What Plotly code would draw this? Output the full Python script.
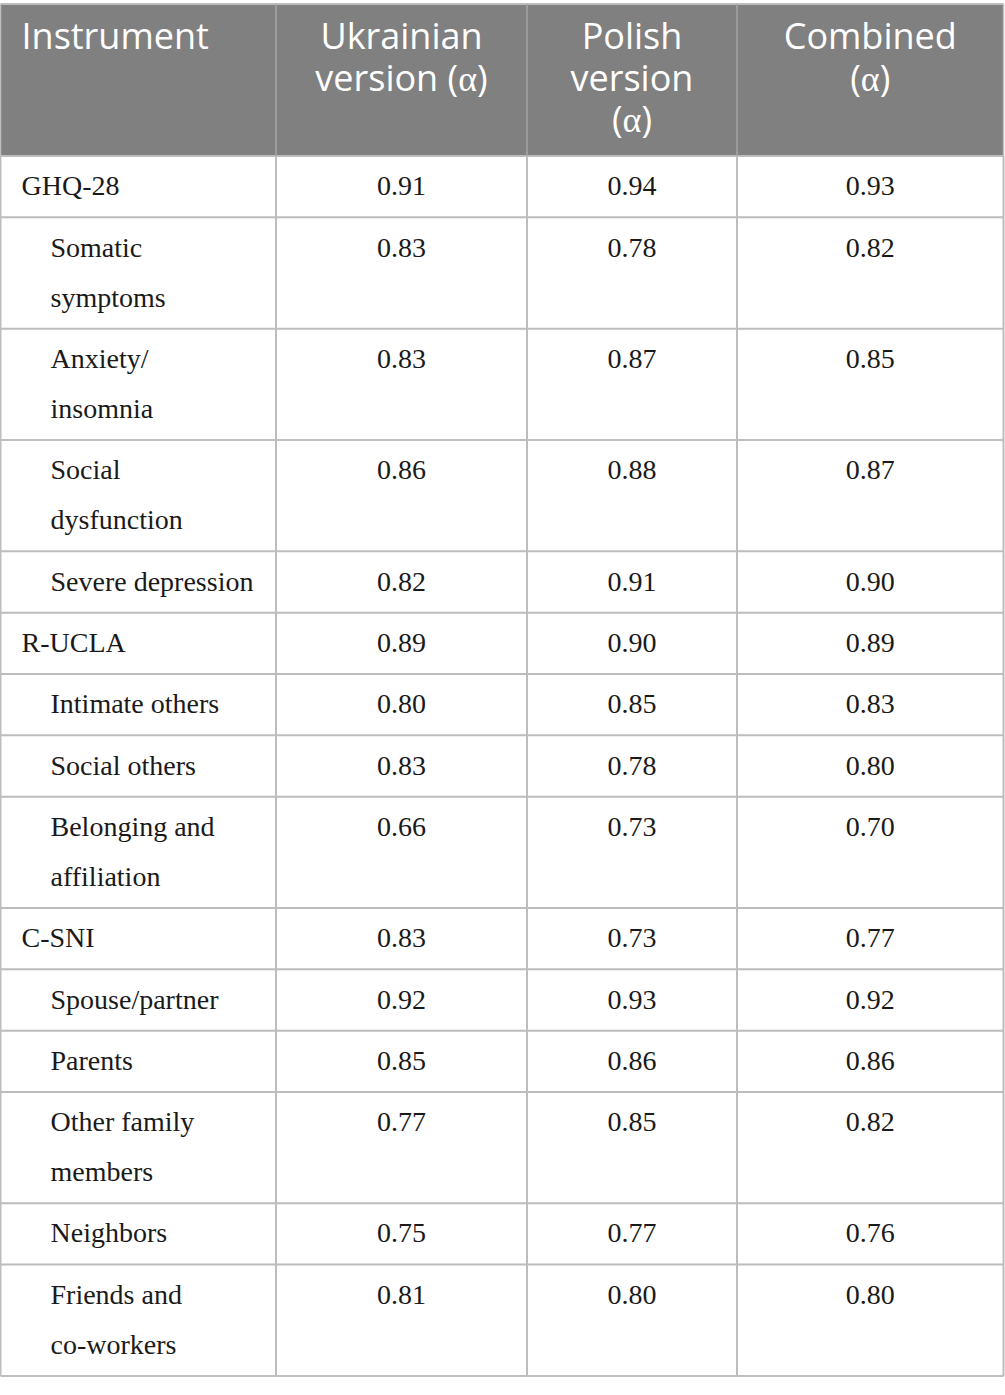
import plotly.graph_objects as go

# ---- data ----
alpha = '<span style="font-family:Liberation Serif">α</span>'
headers = ["Instrument", f"Ukrainian<br>version ({alpha})", f"Polish<br>version<br>({alpha})", f"Combined<br>({alpha})"]
instruments = ["GHQ-28", "Somatic<br>symptoms", "Anxiety/<br>insomnia", "Social<br>dysfunction",
               "Severe depression", "R-UCLA", "Intimate others", "Social others",
               "Belonging and<br>affiliation", "C-SNI", "Spouse/partner", "Parents",
               "Other family<br>members", "Neighbors", "Friends and<br>co-workers"]
indent = [0, 1, 1, 1, 1, 0, 1, 1, 1, 0, 1, 1, 1, 1, 1]
ukrainian = [0.91, 0.83, 0.83, 0.86, 0.82, 0.89, 0.80, 0.83, 0.66, 0.83, 0.92, 0.85, 0.77, 0.75, 0.81]
polish = [0.94, 0.78, 0.87, 0.88, 0.91, 0.90, 0.85, 0.78, 0.73, 0.73, 0.93, 0.86, 0.85, 0.77, 0.80]
combined = [0.93, 0.82, 0.85, 0.87, 0.90, 0.89, 0.83, 0.80, 0.70, 0.77, 0.92, 0.86, 0.82, 0.76, 0.80]

# ---- layout parameters ----
W, H = 1005, 1395
col_edges = [0.5, 276, 527, 737, 1003.5]
top, head_bottom = 4, 156
single_h, line_gap = 61.33, 50.0
body_fs, head_fs = 28, 36
head_line = 41.5
grid_color = "#bdbdbd"
head_bg = "#808080"
text_color = "#1a1a1a"

fig = go.Figure()
shapes = []

shapes.append(dict(type="rect", xref="x", yref="y", x0=col_edges[0], x1=col_edges[-1],
                   y0=top, y1=head_bottom, fillcolor=head_bg, line=dict(width=0), layer="below"))

row_tops = []
y = head_bottom
for lab in instruments:
    row_tops.append(y)
    n = lab.count("<br>") + 1
    y += single_h + (n - 1) * line_gap
bottom = y
row_edges = row_tops + [bottom]

for yy in [top] + row_edges:
    shapes.append(dict(type="line", xref="x", yref="y", x0=col_edges[0], x1=col_edges[-1],
                       y0=yy, y1=yy, line=dict(color=grid_color, width=2)))
for i, xx in enumerate(col_edges):
    col = grid_color if i in (0, len(col_edges) - 1) else "#a6a6a6"
    shapes.append(dict(type="line", xref="x", yref="y", x0=xx, x1=xx, y0=top, y1=head_bottom,
                       line=dict(color=col, width=1.5)))
    shapes.append(dict(type="line", xref="x", yref="y", x0=xx, x1=xx, y0=head_bottom, y1=bottom,
                       line=dict(color=grid_color, width=2)))

cap_shift = 0.35

hx, hy, ht, hpos = [], [], [], []
for ci, h in enumerate(headers):
    for li, t in enumerate(h.split("<br>")):
        base = 53 + li * head_line
        if ci == 0:
            hx.append(col_edges[0] + 21)
            hpos.append("middle right")
        else:
            hx.append((col_edges[ci] + col_edges[ci + 1]) / 2)
            hpos.append("middle center")
        hy.append(base - cap_shift * head_fs)
        ht.append(t)
fig.add_trace(go.Scatter(x=hx, y=hy, text=ht, mode="text", textposition=hpos,
                         textfont=dict(family="Open Sans", size=head_fs, color="white"),
                         hoverinfo="skip", showlegend=False))

lx, ly, lt = [], [], []
for r, lab in enumerate(instruments):
    for li, t in enumerate(lab.split("<br>")):
        base = row_tops[r] + 42 + li * line_gap
        lx.append(col_edges[0] + (50 if indent[r] else 21))
        ly.append(base - cap_shift * body_fs)
        lt.append(t)
fig.add_trace(go.Scatter(x=lx, y=ly, text=lt, mode="text", textposition="middle right",
                         textfont=dict(family="Liberation Serif", size=body_fs, color=text_color),
                         hoverinfo="skip", showlegend=False))

for ci, vals in enumerate([ukrainian, polish, combined], start=1):
    cx = (col_edges[ci] + col_edges[ci + 1]) / 2
    fig.add_trace(go.Scatter(
        x=[cx] * len(vals),
        y=[rt + 42 - cap_shift * body_fs for rt in row_tops],
        text=[f"{v:.2f}" for v in vals], mode="text", textposition="middle center",
        textfont=dict(family="Liberation Serif", size=body_fs, color=text_color),
        hoverinfo="skip", showlegend=False))

fig.update_layout(
    width=W, height=H, margin=dict(l=0, r=0, t=0, b=0),
    paper_bgcolor="white", plot_bgcolor="white", shapes=shapes,
    xaxis=dict(range=[0, W], visible=False, fixedrange=True),
    yaxis=dict(range=[H, 0], visible=False, fixedrange=True),
)
fig.write_html("out.html", config={"displayModeBar": False},
               post_script="document.body.style.margin='0';document.body.style.overflow='hidden';")
